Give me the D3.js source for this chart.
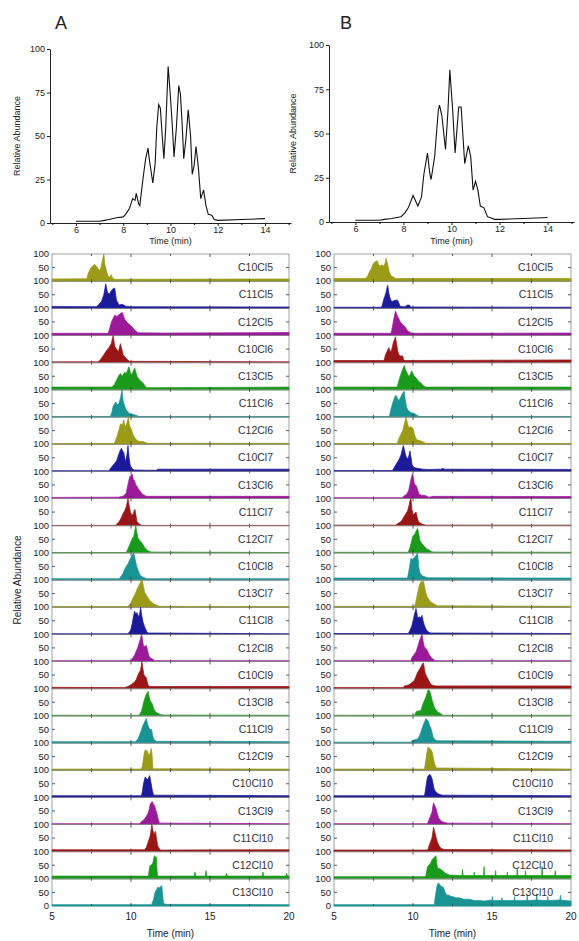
<!DOCTYPE html>
<html>
<head>
<meta charset="utf-8">
<script src="https://cdn.jsdelivr.net/npm/d3@7"></script>
<style>
  body { margin: 0; background: #fff; }
  text { font-family: Arial, "Liberation Sans", sans-serif; fill: #222; }
</style>
</head>
<body>
<svg id="chart" width="579" height="941"></svg>
<script>
// compound names, top to bottom
const compounds = ["C10Cl5", "C11Cl5", "C12Cl5", "C10Cl6", "C13Cl5", "C11Cl6", "C12Cl6", "C10Cl7",
  "C13Cl6", "C11Cl7", "C12Cl7", "C10Cl8", "C13Cl7", "C11Cl8", "C12Cl8", "C10Cl9", "C13Cl8", "C11Cl9",
  "C12Cl9", "C10Cl10", "C13Cl9", "C11Cl10", "C12Cl10", "C13Cl10"];
const colors = ["#9b9b18", "#1a1a9a", "#9a1a9a", "#9a1616", "#1a9a1a", "#189494"];

const topXTicks = [6, 8, 10, 12, 14];
const topXMinor = [5, 7, 9, 11, 13, 15];
const topYTicks = [0, 25, 50, 75, 100];
const stripXTicks = [5, 10, 15, 20];
const stripXMinor = [7.5, 12.5, 17.5];
const stripYTicks = [50, 100];

// total ion chromatograms [time, abundance]
const ticA = [[6,1],[7,1],[7.2,1.5],[7.4,2],[7.7,3],[8.0,3.5],[8.1,5],[8.25,8],[8.4,14],[8.5,13],[8.55,17],[8.65,11],
  [8.7,10],[8.85,27],[8.95,37],[9.05,43],[9.1,37],[9.25,23],[9.35,34],[9.42,55],[9.5,68],[9.57,66],[9.65,50],[9.72,37],
  [9.8,55],[9.9,90],[10.0,72],[10.08,55],[10.15,38],[10.25,55],[10.35,79],[10.42,74],[10.5,55],[10.56,37],[10.65,48],
  [10.75,65],[10.85,50],[10.92,28],[11.0,33],[11.08,44],[11.18,32],[11.28,14],[11.4,19],[11.5,10],[11.6,5],[11.75,4.5],
  [11.85,2],[12,1.5],[13,2],[14,2.5]];
const ticB = [[6,1],[7,1],[7.2,1.5],[7.5,2],[7.9,3],[8.05,5],[8.2,8],[8.4,15],[8.5,12],[8.6,9],[8.75,14],[8.85,27],
  [9.0,39],[9.1,27],[9.15,24],[9.3,37],[9.45,63],[9.5,66],[9.6,60],[9.75,41],[9.85,62],[9.93,86],[10.05,63],[10.15,39],
  [10.3,65],[10.4,65],[10.55,33],[10.7,43],[10.8,37],[10.9,18],[11.0,23],[11.1,18],[11.2,9],[11.35,8],[11.5,3],
  [11.8,1.5],[12,1.5],[13,2],[14,2.5]];

// extracted ion chromatograms, panel A, same order as compounds
const tracesA = [
  [[5,8],[7.2,9],[7.3,30],[7.45,48],[7.6,58],[7.7,62],[7.85,52],[8.0,38],[8.1,50],[8.2,80],[8.28,100],[8.35,60],[8.45,38],[8.55,18],[8.65,14],[8.75,24],[8.85,10],[9.0,7],[20,8]],
  [[5,7],[7.8,6],[7.9,10],[8.13,25],[8.28,50],[8.4,90],[8.53,55],[8.65,55],[8.82,70],[8.97,75],[9.08,30],[9.25,12],[9.45,15],[9.66,8],[10,6],[20,5]],
  [[5,8],[8.55,8],[8.65,25],[8.76,50],[8.97,75],[9.12,70],[9.29,80],[9.45,85],[9.6,60],[9.8,45],[10.02,35],[10.23,20],[10.44,10],[12,9],[20,11]],
  [[5,3],[7.9,3],[8.02,8],[8.23,25],[8.4,40],[8.6,55],[8.75,70],[8.87,100],[8.97,60],[9.08,50],[9.2,40],[9.33,70],[9.5,30],[9.7,15],[9.9,5],[20,3]],
  [[5,10],[8.8,10],[8.95,20],[9.08,35],[9.2,50],[9.33,60],[9.45,50],[9.6,65],[9.7,60],[9.87,85],[10.0,55],[10.12,65],[10.23,80],[10.38,50],[10.55,35],[10.76,25],[10.97,8],[20,10]],
  [[5,2],[8.7,2],[8.8,20],[8.87,40],[9.03,55],[9.15,45],[9.24,50],[9.35,75],[9.43,100],[9.5,60],[9.6,40],[9.7,25],[9.8,20],[9.9,12],[10.02,12],[10.2,8],[10.34,6],[10.5,2],[20,2]],
  [[5,2],[8.9,2],[9.0,10],[9.12,30],[9.25,55],[9.33,75],[9.45,70],[9.54,90],[9.6,70],[9.66,65],[9.75,80],[9.83,100],[9.9,70],[10.02,55],[10.13,35],[10.23,25],[10.35,15],[10.44,12],[10.6,10],[10.76,10],[10.9,6],[11.07,3],[20,3]],
  [[5,2],[8.6,2],[8.76,15],[8.97,30],[9.1,40],[9.18,55],[9.3,75],[9.39,85],[9.47,75],[9.54,70],[9.6,50],[9.66,35],[9.74,60],[9.81,95],[9.88,50],[9.96,20],[10.1,8],[10.23,5],[11.0,4],[11.6,4],[11.7,8],[20,8]],
  [[5,4],[9.2,5],[9.5,8],[9.7,20],[9.8,50],[9.92,80],[10.0,85],[10.08,90],[10.15,70],[10.23,65],[10.3,50],[10.38,45],[10.46,35],[10.55,30],[10.65,20],[10.76,15],[10.97,8],[20,8]],
  [[5,1],[9.0,1],[9.18,10],[9.3,20],[9.39,30],[9.5,45],[9.6,55],[9.7,70],[9.81,100],[9.88,75],[9.96,50],[10.05,40],[10.13,40],[10.2,55],[10.25,60],[10.32,35],[10.38,15],[10.55,5],[10.7,1],[20,1]],
  [[5,1],[9.7,1],[9.81,15],[9.92,30],[10.02,45],[10.1,55],[10.17,60],[10.24,80],[10.3,100],[10.37,75],[10.44,55],[10.55,45],[10.65,40],[10.76,30],[10.86,20],[11.07,8],[11.28,3],[20,1]],
  [[5,5],[9.25,5],[9.39,15],[9.5,25],[9.6,40],[9.7,50],[9.81,60],[9.92,75],[10.02,85],[10.1,95],[10.17,100],[10.25,80],[10.34,55],[10.45,35],[10.55,20],[10.7,12],[10.86,8],[11.0,5],[20,5]],
  [[5,2],[9.8,2],[9.92,10],[10.02,20],[10.13,35],[10.24,45],[10.34,60],[10.45,75],[10.55,85],[10.63,95],[10.71,100],[10.78,80],[10.86,55],[10.97,45],[11.07,35],[11.18,25],[11.28,20],[11.45,12],[11.6,8],[11.8,3],[20,2]],
  [[5,2],[9.8,2],[9.92,10],[10.0,20],[10.08,40],[10.15,65],[10.23,85],[10.3,75],[10.38,80],[10.44,70],[10.5,65],[10.56,80],[10.61,100],[10.68,70],[10.76,45],[10.85,30],[10.92,20],[11.0,10],[11.07,5],[20,2]],
  [[5,3],[10.0,3],[10.13,15],[10.24,25],[10.34,40],[10.42,50],[10.5,65],[10.58,80],[10.67,100],[10.74,75],[10.8,55],[10.88,55],[10.97,60],[11.05,40],[11.13,20],[11.25,12],[11.39,8],[11.5,3],[20,3]],
  [[5,5],[9.6,4],[9.8,8],[10.02,15],[10.12,20],[10.23,25],[10.34,35],[10.44,50],[10.52,60],[10.59,65],[10.65,85],[10.69,100],[10.75,75],[10.82,50],[10.9,45],[10.97,40],[11.03,25],[11.09,12],[11.2,8],[20,8]],
  [[5,2],[10.5,2],[10.65,15],[10.72,30],[10.8,50],[10.88,65],[10.97,80],[11.03,85],[11.09,90],[11.15,70],[11.22,55],[11.28,50],[11.34,45],[11.42,30],[11.49,20],[11.6,12],[11.7,10],[11.85,5],[12.0,3],[20,2]],
  [[5,5],[10.3,5],[10.44,15],[10.55,30],[10.65,45],[10.72,60],[10.8,70],[10.88,80],[10.97,90],[11.05,70],[11.13,55],[11.22,50],[11.3,50],[11.36,30],[11.43,15],[11.6,6],[20,5]],
  [[5,4],[10.65,4],[10.72,15],[10.76,30],[10.83,60],[10.9,75],[10.97,72],[11.03,70],[11.1,60],[11.18,55],[11.23,70],[11.28,80],[11.33,60],[11.39,5],[20,4]],
  [[5,6],[10.65,6],[10.72,20],[10.76,40],[10.83,60],[10.9,75],[10.97,70],[11.03,65],[11.1,70],[11.18,80],[11.23,65],[11.28,50],[11.35,25],[11.43,8],[20,6]],
  [[5,3],[10.55,3],[10.65,10],[10.76,15],[10.86,20],[10.97,30],[11.07,40],[11.15,55],[11.22,75],[11.28,80],[11.34,85],[11.42,75],[11.49,70],[11.56,55],[11.64,40],[11.72,20],[11.8,5],[20,3]],
  [[5,7],[10.85,7],[10.97,15],[11.05,30],[11.11,40],[11.17,50],[11.22,60],[11.27,80],[11.32,100],[11.38,80],[11.45,65],[11.5,70],[11.55,75],[11.62,45],[11.7,20],[11.85,6],[20,7]],
  [[5,10],[11.1,10],[11.18,45],[11.23,50],[11.28,50],[11.34,55],[11.39,60],[11.44,75],[11.49,85],[11.55,80],[11.6,80],[11.64,40],[11.68,10],[14.0,10],[14.05,25],[14.1,10],[14.7,10],[14.75,30],[14.8,10],[16.0,10],[16.05,20],[16.1,10],[18.3,10],[18.35,25],[18.4,10],[19.8,10],[19.85,20],[19.9,10],[20,10]],
  [[5,5],[11.3,5],[11.43,25],[11.5,45],[11.55,55],[11.62,60],[11.7,70],[11.78,65],[11.85,70],[11.9,72],[11.95,75],[12.0,40],[12.06,10],[12.2,6],[20,5]]
];

// extracted ion chromatograms, panel B
const tracesB = [
  [[5,10],[7.0,10],[7.14,20],[7.25,35],[7.35,45],[7.45,60],[7.56,70],[7.65,72],[7.73,75],[7.8,65],[7.88,55],[7.95,58],[8.05,60],[8.12,55],[8.19,60],[8.25,70],[8.3,85],[8.36,70],[8.42,55],[8.5,35],[8.61,20],[8.75,15],[8.89,10],[20,10]],
  [[5,4],[8.0,4],[8.06,12],[8.13,30],[8.22,45],[8.3,60],[8.35,75],[8.4,85],[8.46,60],[8.51,45],[8.6,30],[8.68,25],[8.78,28],[8.89,30],[8.96,30],[9.03,30],[9.1,20],[9.18,8],[9.4,6],[9.56,8],[9.65,12],[9.77,12],[9.85,5],[20,4]],
  [[5,8],[8.6,8],[8.66,20],[8.72,40],[8.8,65],[8.89,90],[8.96,80],[9.03,70],[9.12,60],[9.2,50],[9.28,45],[9.35,40],[9.45,35],[9.52,30],[9.62,20],[9.73,15],[9.85,10],[10.02,8],[20,9]],
  [[5,8],[8.15,8],[8.2,15],[8.26,30],[8.35,40],[8.42,50],[8.47,55],[8.54,45],[8.61,40],[8.68,55],[8.76,75],[8.83,85],[8.89,95],[8.96,70],[9.03,45],[9.1,30],[9.2,25],[9.28,25],[9.35,25],[9.4,12],[9.45,8],[20,10]],
  [[5,10],[9.0,10],[9.07,25],[9.14,40],[9.22,55],[9.31,70],[9.38,80],[9.45,90],[9.52,75],[9.6,65],[9.68,55],[9.77,50],[9.85,60],[9.92,70],[10.0,60],[10.08,50],[10.18,45],[10.29,35],[10.4,30],[10.5,25],[10.65,15],[10.82,10],[20,10]],
  [[5,2],[8.5,2],[8.56,15],[8.61,30],[8.68,45],[8.76,60],[8.85,75],[8.93,80],[9.0,70],[9.1,60],[9.2,70],[9.31,85],[9.38,90],[9.45,95],[9.52,60],[9.6,35],[9.68,25],[9.77,20],[9.9,15],[10.02,15],[10.15,10],[10.29,5],[10.4,2],[20,2]],
  [[5,2],[9.0,2],[9.1,20],[9.22,35],[9.35,50],[9.45,75],[9.56,100],[9.64,80],[9.73,60],[9.8,62],[9.87,65],[9.95,60],[10.02,55],[10.1,35],[10.19,20],[10.3,15],[10.5,12],[10.65,8],[10.82,3],[20,2]],
  [[5,3],[8.7,3],[8.82,15],[8.92,25],[9.03,35],[9.13,45],[9.24,60],[9.32,80],[9.39,95],[9.47,75],[9.56,55],[9.62,50],[9.68,45],[9.75,60],[9.81,75],[9.88,50],[9.94,25],[10.05,15],[10.19,12],[10.4,10],[10.61,8],[11.0,7],[11.8,8],[11.87,12],[11.97,8],[20,7]],
  [[5,3],[9.3,3],[9.45,10],[9.6,15],[9.73,30],[9.8,50],[9.87,70],[9.93,85],[9.98,90],[10.03,75],[10.08,55],[10.15,50],[10.23,45],[10.3,30],[10.4,15],[10.55,12],[10.65,12],[10.82,10],[11.0,5],[11.3,8],[20,7]],
  [[5,2],[8.9,2],[9.05,8],[9.24,15],[9.35,25],[9.45,35],[9.56,45],[9.66,55],[9.75,75],[9.82,95],[9.87,100],[9.93,60],[10.02,40],[10.1,45],[10.19,50],[10.27,30],[10.34,15],[10.45,10],[10.61,5],[10.8,2],[20,2]],
  [[5,2],[9.7,2],[9.81,20],[9.9,40],[9.98,60],[10.05,65],[10.13,70],[10.2,80],[10.29,90],[10.36,70],[10.44,45],[10.55,35],[10.71,25],[10.85,15],[11.03,10],[11.15,5],[11.28,3],[20,2]],
  [[5,7],[9.65,7],[9.73,30],[9.8,55],[9.87,80],[9.95,75],[10.02,80],[10.1,85],[10.19,90],[10.25,95],[10.29,100],[10.36,50],[10.44,25],[10.52,20],[10.61,15],[10.82,10],[11,8],[20,7]],
  [[5,3],[10.1,3],[10.16,15],[10.23,35],[10.32,60],[10.4,80],[10.47,90],[10.53,95],[10.59,90],[10.65,100],[10.72,80],[10.78,60],[10.88,40],[10.99,30],[11.1,20],[11.24,15],[11.4,10],[11.55,5],[20,3]],
  [[5,3],[9.7,3],[9.81,15],[9.92,30],[10.02,55],[10.1,75],[10.19,95],[10.24,80],[10.29,60],[10.35,62],[10.4,65],[10.48,60],[10.57,70],[10.64,50],[10.71,35],[10.78,25],[10.86,15],[11.0,8],[11.13,5],[20,3]],
  [[5,3],[9.85,3],[9.94,15],[10.06,25],[10.19,35],[10.3,55],[10.4,75],[10.5,90],[10.57,100],[10.64,75],[10.71,55],[10.78,50],[10.86,45],[10.95,35],[11.03,25],[11.15,15],[11.28,8],[11.4,3],[20,3]],
  [[5,4],[9.4,4],[9.45,10],[9.6,12],[9.77,15],[9.92,22],[10.08,30],[10.19,45],[10.29,60],[10.4,70],[10.5,80],[10.58,90],[10.65,95],[10.72,75],[10.78,55],[10.87,45],[10.95,35],[11.05,25],[11.13,15],[11.3,12],[11.45,10],[20,10]],
  [[5,2],[10.1,2],[10.19,15],[10.35,18],[10.5,20],[10.58,35],[10.67,50],[10.75,60],[10.82,70],[10.9,85],[10.95,95],[11.01,95],[11.07,90],[11.14,75],[11.2,60],[11.3,40],[11.41,25],[11.55,15],[11.76,8],[11.9,2],[20,2]],
  [[5,3],[9.85,3],[9.94,8],[10.1,12],[10.29,15],[10.4,25],[10.5,40],[10.58,55],[10.67,70],[10.75,80],[10.82,90],[10.9,85],[10.97,80],[11.05,65],[11.13,55],[11.2,40],[11.28,20],[11.4,12],[11.55,8],[20,6]],
  [[5,4],[10.72,4],[10.77,20],[10.82,40],[10.88,65],[10.95,85],[11.01,82],[11.07,80],[11.14,75],[11.2,70],[11.27,50],[11.34,30],[11.42,15],[11.49,8],[20,4]],
  [[5,6],[10.72,6],[10.77,20],[10.82,40],[10.87,60],[10.92,75],[10.98,80],[11.07,85],[11.14,78],[11.2,70],[11.27,50],[11.34,30],[11.45,20],[11.55,15],[11.7,10],[11.87,8],[20,6]],
  [[5,3],[10.9,3],[10.97,10],[11.03,20],[11.1,30],[11.2,45],[11.25,65],[11.3,80],[11.37,70],[11.45,60],[11.52,45],[11.62,25],[11.75,15],[11.87,10],[12.18,5],[20,3]],
  [[5,6],[10.9,6],[10.97,12],[11.03,25],[11.1,35],[11.2,50],[11.25,70],[11.3,90],[11.37,75],[11.45,55],[11.55,35],[11.66,20],[11.8,12],[11.97,8],[20,6]],
  [[5,8],[10.8,8],[10.92,45],[11.0,50],[11.07,55],[11.13,60],[11.2,70],[11.28,75],[11.36,80],[11.45,85],[11.5,60],[11.55,40],[11.65,38],[11.76,35],[11.9,28],[12.08,20],[12.3,14],[13.1,12],[13.13,35],[13.17,12],[13.85,12],[13.87,25],[13.9,12],[14.47,12],[14.5,45],[14.53,12],[15.2,12],[15.23,30],[15.26,12],[15.95,12],[15.97,25],[16.0,12],[16.57,12],[16.6,40],[16.63,12],[17.1,12],[17.12,30],[17.15,12],[18.14,12],[18.17,45],[18.2,12],[18.97,12],[19.0,30],[19.03,12],[20,12]],
  [[5,5],[11.35,5],[11.4,30],[11.45,50],[11.52,75],[11.6,85],[11.68,80],[11.76,75],[11.84,70],[11.91,70],[12.0,55],[12.08,45],[12.18,40],[12.29,40],[12.4,35],[12.5,35],[12.7,30],[12.92,30],[13.2,25],[13.55,25],[13.9,20],[14.18,20],[14.5,18],[15.0,22],[15.02,35],[15.05,20],[15.6,20],[15.63,30],[15.66,20],[16.4,20],[16.43,35],[16.46,20],[17.2,20],[17.23,40],[17.26,20],[17.8,22],[17.83,45],[17.86,22],[18.5,20],[18.53,35],[18.56,20],[19.3,22],[19.33,40],[19.36,22],[20,18]]
];

const svg = d3.select("#chart");

const panels = [
  { letter: "A", tic: ticA, traces: tracesA, letterX: 55, topX: [50, 291], topY: [223, 49], topTitleX: 17,
    stripX: [52, 289], nameX: 273, stripTitle: true },
  { letter: "B", tic: ticB, traces: tracesB, letterX: 340, topX: [329, 574], topY: [222, 45], topTitleX: 293,
    stripX: [334, 571], nameX: 553, stripTitle: false }
];

const stripTop = 254, stripBottom = 906;
const stripH = (stripBottom - stripTop) / compounds.length;

panels.forEach(p => {
  // panel letter
  svg.append("text")
    .attr("x", p.letterX).attr("y", 29)
    .style("font-size", "18px")
    .text(p.letter);

  // --- total ion chromatogram on top
  const x = d3.scaleLinear().domain([4.9, 15.1]).range(p.topX);
  const y = d3.scaleLinear().domain([0, 100]).range(p.topY);
  const top = svg.append("g");

  const xAxis = top.append("g")
    .attr("transform", `translate(0,${p.topY[0]})`)
    .call(d3.axisBottom(x).tickValues(topXTicks).tickSize(3).tickPadding(1).tickSizeOuter(0));
  top.append("g")
    .attr("transform", `translate(0,${p.topY[0]})`)
    .call(d3.axisBottom(x).tickValues(topXMinor).tickSize(2).tickFormat("").tickSizeOuter(0))
    .select(".domain").remove();
  const yAxis = top.append("g")
    .attr("transform", `translate(${p.topX[0]},0)`)
    .call(d3.axisLeft(y).tickValues(topYTicks).tickSize(3).tickPadding(2).tickSizeOuter(0));
  [xAxis, yAxis].forEach(a => {
    a.selectAll("text").style("font-size", "9px").style("font-family", "Arial, 'Liberation Sans', sans-serif");
    a.selectAll("line, path").attr("stroke", "#222");
  });

  top.append("path")
    .datum(p.tic)
    .attr("fill", "none")
    .attr("stroke", "#111")
    .attr("stroke-width", 1.1)
    .attr("d", d3.line().x(d => x(d[0])).y(d => y(d[1])));

  top.append("text")
    .attr("x", (p.topX[0] + p.topX[1]) / 2).attr("y", 244)
    .attr("text-anchor", "middle")
    .style("font-size", "9px")
    .text("Time (min)");
  top.append("text")
    .attr("transform", `translate(${p.topTitleX},${(p.topY[0] + p.topY[1]) / 2}) rotate(-90)`)
    .attr("text-anchor", "middle")
    .attr("dy", "0.35em")
    .style("font-size", "9px")
    .text("Relative Abundance");

  // --- stacked extracted ion chromatograms
  const sx = d3.scaleLinear().domain([5, 20]).range(p.stripX);
  const strips = svg.append("g");

  p.traces.forEach((trace, i) => {
    const y0 = stripTop + i * stripH;
    const sy = d3.scaleLinear().domain([0, 100]).range([y0 + stripH, y0]);
    const g = strips.append("g");
    const color = colors[i % colors.length];

    g.append("rect")
      .attr("x", p.stripX[0]).attr("y", y0)
      .attr("width", p.stripX[1] - p.stripX[0]).attr("height", stripH)
      .attr("fill", "none").attr("stroke", "#8a8a8a").attr("stroke-width", 0.8);

    g.append("path")
      .datum(trace)
      .attr("fill", color)
      .attr("stroke", color)
      .attr("stroke-width", 0.7)
      .attr("d", d3.area().x(d => sx(d[0])).y0(sy(0)).y1(d => sy(d[1])));

    // inward ticks on all four sides
    const ticks = [];
    stripXTicks.slice(1, -1).forEach(t => ticks.push([sx(t), 3]));
    stripXMinor.forEach(t => ticks.push([sx(t), 2]));
    ticks.forEach(([tx, len]) => {
      g.append("line").attr("x1", tx).attr("x2", tx).attr("y1", sy(0)).attr("y2", sy(0) - len)
        .attr("stroke", "#333").attr("stroke-width", 0.8);
      g.append("line").attr("x1", tx).attr("x2", tx).attr("y1", sy(100)).attr("y2", sy(100) + len)
        .attr("stroke", "#333").attr("stroke-width", 0.8);
    });
    g.append("line").attr("x1", p.stripX[0]).attr("x2", p.stripX[0] + 3).attr("y1", sy(50)).attr("y2", sy(50))
      .attr("stroke", "#333").attr("stroke-width", 0.8);
    g.append("line").attr("x1", p.stripX[1] - 3).attr("x2", p.stripX[1]).attr("y1", sy(50)).attr("y2", sy(50))
      .attr("stroke", "#333").attr("stroke-width", 0.8);

    // the 0 of a strip sits under the 100 of the strip below, so only the last strip shows it
    const labels = i === p.traces.length - 1 ? [0].concat(stripYTicks) : stripYTicks;
    labels.forEach(v => {
      g.append("text")
        .attr("x", p.stripX[0] - 3).attr("y", sy(v))
        .attr("dy", "0.35em")
        .attr("text-anchor", "end")
        .style("font-size", "9.5px")
        .text(v);
    });

    g.append("text")
      .attr("x", p.nameX).attr("y", y0 + stripH / 2)
      .attr("dy", "0.35em")
      .attr("text-anchor", "end")
      .style("font-size", "10.5px")
      .style("fill", "#333")
      .text(compounds[i]);
  });

  strips.selectAll(".xlab")
    .data(stripXTicks)
    .enter().append("text")
    .attr("x", d => sx(d)).attr("y", 920)
    .attr("text-anchor", "middle")
    .style("font-size", "10px")
    .text(d => d);

  strips.append("text")
    .attr("x", (p.stripX[0] + p.stripX[1]) / 2).attr("y", 937)
    .attr("text-anchor", "middle")
    .style("font-size", "10px")
    .text("Time (min)");

  if (p.stripTitle) {
    strips.append("text")
      .attr("transform", `translate(17,${(stripTop + stripBottom) / 2}) rotate(-90)`)
      .attr("text-anchor", "middle")
      .attr("dy", "0.35em")
      .style("font-size", "10px")
      .text("Relative Abundance");
  }
});
</script>
</body>
</html>
